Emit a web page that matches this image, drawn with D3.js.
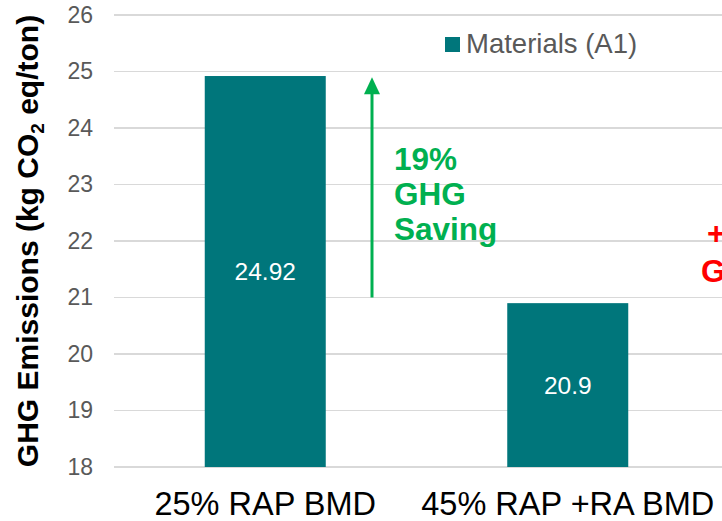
<!doctype html>
<html>

<head>
    <style>
        body {
            margin: 0;
            background: #fff;
        }

        svg {
            font-family: "Liberation Sans", Arial, sans-serif;
        }

        .grid line {
            stroke: #d9d9d9;
            stroke-width: 1.5px;
            shape-rendering: crispEdges;
        }

        .axis path,
        .axis line {
            display: none;
        }

        .axis text {
            font-size: 23px;
            fill: #595959;
        }
    </style>
    <script src="https://d3js.org/d3.v7.min.js"></script>
</head>

<body>
    <script>
        // data
        const categories = ["25% RAP BMD", "45% RAP +RA BMD"]
        const values = [24.92, 20.9]
        const valueLabels = ["24.92", "20.9"]
        const yTicks = [18, 19, 20, 21, 22, 23, 24, 25, 26]
        const seriesName = "Materials (A1)"
        const savingArrow = [21, 24.9]
        const savingText = ["19%", "GHG", "Saving"]
        const increaseText = ["+", "GHG"]

        const width = 722
        const height = 521
        const teal = "#00767b"
        const green = "#00b050"

        const svg = d3.select("body").append("svg")
            .attr("width", width)
            .attr("height", height)

        const x = d3.scaleBand()
            .domain(categories)
            .range([114, 719])
            .paddingInner(0.6)
            .paddingOuter(0.3)

        const y = d3.scaleLinear()
            .domain([18, 26])
            .range([467, 15])

        //gridlines
        svg.append("g")
            .attr("class", "grid")
            .selectAll("line")
            .data(yTicks)
            .enter()
            .append("line")
            .attr("x1", 114)
            .attr("x2", width)
            .attr("y1", d => y(d))
            .attr("y2", d => y(d))

        //y axis labels
        svg.append("g")
            .attr("class", "axis")
            .attr("transform", "translate(101,0)")
            .call(d3.axisLeft(y).tickValues(yTicks).tickSize(0).tickPadding(8))

        //bars
        svg.append("g")
            .selectAll("rect")
            .data(values)
            .enter()
            .append("rect")
            .attr("x", (d, i) => x(categories[i]))
            .attr("width", x.bandwidth())
            .attr("y", d => y(d))
            .attr("height", d => y(18) - y(d))
            .attr("fill", teal)

        //value labels
        svg.append("g")
            .selectAll("text")
            .data(values)
            .enter()
            .append("text")
            .attr("x", (d, i) => x(categories[i]) + x.bandwidth() / 2)
            .attr("y", d => (y(d) + y(18)) / 2)
            .attr("dy", "0.35em")
            .attr("text-anchor", "middle")
            .attr("font-size", 24.5)
            .attr("fill", "#fff")
            .text((d, i) => valueLabels[i])

        //category labels
        svg.append("g")
            .selectAll("text")
            .data(categories)
            .enter()
            .append("text")
            .attr("x", d => x(d) + x.bandwidth() / 2)
            .attr("y", 515)
            .attr("text-anchor", "middle")
            .attr("font-size", 32.5)
            .attr("fill", "#000")
            .text(d => d)

        //y axis title
        svg.append("text")
            .attr("transform", `translate(38,${y(22)}) rotate(-90)`)
            .attr("text-anchor", "middle")
            .attr("font-size", 30)
            .attr("font-weight", "bold")
            .attr("fill", "#000")
            .call(t => {
                t.append("tspan").text("GHG Emissions (kg CO")
                t.append("tspan").attr("font-size", 19).attr("dy", 6).text("2")
                t.append("tspan").attr("dy", -6).text(" eq/ton)")
            })

        //legend
        svg.append("rect")
            .attr("x", 445)
            .attr("y", 37)
            .attr("width", 15)
            .attr("height", 15)
            .attr("fill", teal)
        svg.append("text")
            .attr("x", 466)
            .attr("y", 53)
            .attr("font-size", 27.5)
            .attr("fill", "#595959")
            .text(seriesName)

        //saving arrow
        const ax = 372
        svg.append("line")
            .attr("x1", ax)
            .attr("x2", ax)
            .attr("y1", y(savingArrow[0]))
            .attr("y2", y(savingArrow[1]) + 14)
            .attr("stroke", green)
            .attr("stroke-width", 3)
        svg.append("path")
            .attr("d", `M${ax},${y(savingArrow[1])} L${ax - 8},${y(savingArrow[1]) + 17} L${ax + 8},${y(savingArrow[1]) + 17} Z`)
            .attr("fill", green)

        svg.append("g")
            .selectAll("text")
            .data(savingText)
            .enter()
            .append("text")
            .attr("x", 394)
            .attr("y", (d, i) => 170 + i * 35)
            .attr("font-size", 31.5)
            .attr("font-weight", "bold")
            .attr("fill", green)
            .text(d => d)

        //increase note, cut off at the right edge like in the original
        svg.append("g")
            .selectAll("text")
            .data(increaseText)
            .enter()
            .append("text")
            .attr("x", (d, i) => i === 0 ? 707 : 701)
            .attr("y", (d, i) => 244 + i * 38)
            .attr("font-size", 31.5)
            .attr("font-weight", "bold")
            .attr("fill", "#ff0000")
            .text(d => d)
    </script>
</body>

</html>
